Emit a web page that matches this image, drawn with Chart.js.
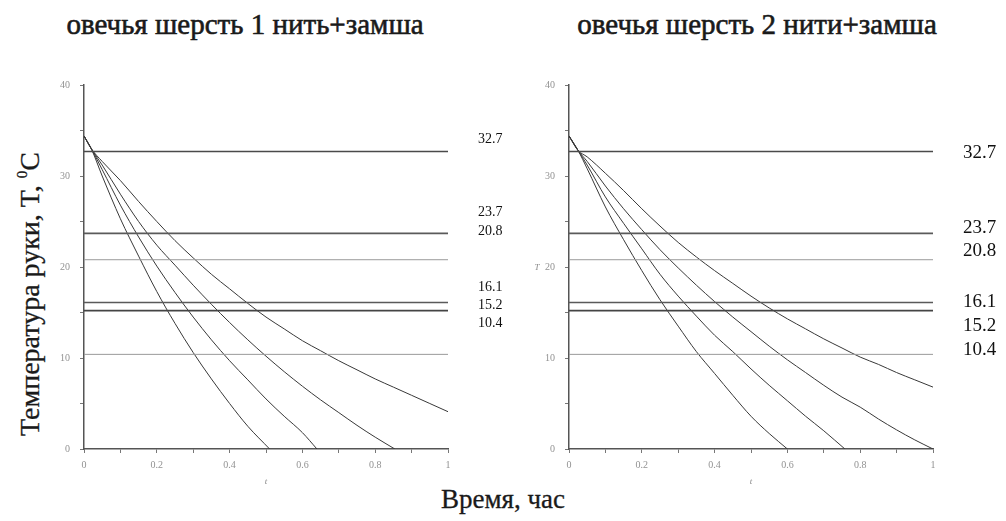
<!DOCTYPE html>
<html lang="ru">
<head>
<meta charset="utf-8">
<title>Температура руки</title>
<script src="https://cdn.jsdelivr.net/npm/chart.js@4.4.1/dist/chart.umd.min.js"></script>
<style>
  html, body { margin: 0; padding: 0; background: #fff; }
  #page { position: relative; width: 1006px; height: 521px; overflow: hidden; font-family: "Liberation Serif", "DejaVu Serif", serif; color: #1a1a1a; }
  .panel { position: absolute; top: 0; width: 503px; height: 521px; }
  .title { position: absolute; top: 10px; font-size: 29px; line-height: 29px; white-space: nowrap; transform: translateX(-50%); -webkit-text-stroke: 0.6px #1a1a1a; }
  #ylab { position: absolute; left: 30px; top: 294px; font-size: 28px; line-height: 28px; white-space: nowrap; transform: translate(-50%, -50%) rotate(-90deg); -webkit-text-stroke: 0.3px #1a1a1a; }
  #ylab sup { font-size: 15px; vertical-align: 12px; line-height: 0; }
  #xlab { position: absolute; left: 503px; top: 486px; font-size: 27px; line-height: 27px; white-space: nowrap; transform: translateX(-50%); -webkit-text-stroke: 0.3px #1a1a1a; }
</style>
</head>
<body>
<div id="page">
  <div class="title" style="left:245px">овечья шерсть 1 нить+замша</div>
  <div class="title" style="left:757px">овечья шерсть 2 нити+замша</div>
  <div id="ylab">Температура руки, T, <sup>0</sup>C</div>
  <div id="xlab">Время, час</div>
  <div class="panel" style="left:0px"><canvas id="left" width="503" height="521"></canvas></div>
  <div class="panel" style="left:503px"><canvas id="right" width="503" height="521"></canvas></div>
</div>
<script>
// Reference temperature levels, °C (same in both panels)
const levels = [32.7, 23.7, 20.8, 16.1, 15.2, 10.4];

// Axis tick values
const xTickLabels = ['0', '0.2', '0.4', '0.6', '0.8', '1'];
const yTickLabels = ['0', '10', '20', '30', '40'];

// Panel 1: one thread + suede — cooling curves (time, h / temperature, °C)
const leftTimeA = [0, 0.02, 0.05, 0.1, 0.15, 0.2, 0.25, 0.3, 0.35, 0.4, 0.45, 0.51];
const leftTempA = [34.4, 33.0, 30.0, 25.3, 21.2, 17.3, 13.8, 10.6, 7.7, 5.0, 2.5, 0];
const leftTimeB = [0, 0.02, 0.05, 0.1, 0.15, 0.2, 0.25, 0.3, 0.35, 0.4, 0.45, 0.5, 0.55, 0.6, 0.64];
const leftTempB = [34.4, 33.0, 30.7, 26.8, 23.3, 20.1, 17.2, 14.5, 12.0, 9.7, 7.6, 5.5, 3.6, 1.8, 0];
const leftTimeC = [0, 0.02, 0.05, 0.1, 0.15, 0.2, 0.25, 0.3, 0.35, 0.4, 0.45, 0.5, 0.55, 0.6, 0.65, 0.7, 0.75, 0.8, 0.854];
const leftTempC = [34.4, 33.0, 31.2, 28.0, 25.0, 22.4, 20.2, 18.0, 15.9, 13.9, 12.0, 10.2, 8.5, 6.9, 5.4, 4.0, 2.6, 1.3, 0];
const leftTimeD = [0, 0.02, 0.05, 0.1, 0.15, 0.2, 0.25, 0.3, 0.35, 0.4, 0.45, 0.5, 0.55, 0.6, 0.65, 0.7, 0.75, 0.8, 0.85, 0.9, 0.95, 1.0];
const leftTempD = [34.4, 33.0, 31.6, 29.5, 27.2, 25.0, 22.9, 21.0, 19.2, 17.6, 16.0, 14.5, 13.2, 11.9, 10.8, 9.7, 8.7, 7.7, 6.8, 5.9, 5.0, 4.1];

// Panel 2: two threads + suede
const rightTimeA = [0, 0.025, 0.05, 0.1, 0.15, 0.2, 0.25, 0.3, 0.35, 0.4, 0.45, 0.5, 0.55, 0.6];
const rightTempA = [34.4, 32.8, 30.8, 26.6, 23.0, 19.6, 16.4, 13.5, 10.7, 8.3, 5.9, 3.6, 1.7, 0];
const rightTimeB = [0, 0.025, 0.05, 0.1, 0.15, 0.2, 0.25, 0.3, 0.35, 0.4, 0.45, 0.5, 0.55, 0.6, 0.65, 0.7, 0.758];
const rightTempB = [34.4, 32.8, 31.2, 27.7, 24.8, 22.0, 19.2, 16.8, 14.6, 12.5, 10.7, 8.8, 7.0, 5.3, 3.6, 2.0, 0];
const rightTimeC = [0, 0.025, 0.05, 0.1, 0.15, 0.2, 0.25, 0.3, 0.35, 0.4, 0.45, 0.5, 0.55, 0.6, 0.65, 0.7, 0.75, 0.8, 0.85, 0.9, 0.95, 1.0];
const rightTempC = [34.4, 32.8, 31.6, 28.9, 26.4, 24.1, 21.9, 19.9, 18.0, 16.2, 14.5, 12.9, 11.3, 9.8, 8.4, 7.0, 5.7, 4.6, 3.3, 2.1, 1.0, 0];
const rightTimeD = [0, 0.025, 0.05, 0.1, 0.15, 0.2, 0.25, 0.3, 0.35, 0.4, 0.45, 0.5, 0.55, 0.6, 0.65, 0.7, 0.75, 0.8, 0.85, 0.9, 0.95, 1.0];
const rightTempD = [34.4, 32.8, 32.1, 30.3, 28.4, 26.4, 24.5, 22.7, 21.1, 19.6, 18.2, 16.8, 15.5, 14.3, 13.2, 12.1, 11.1, 10.1, 9.3, 8.4, 7.6, 6.8];

// Styling of the level lines
const levelWidths = [1.6, 1.6, 1, 1.6, 1.8, 1];
const levelColors = ['#4a4a4a', '#5a5a5a', '#9a9a9a', '#5a5a5a', '#444444', '#9a9a9a'];

function pairs(xs, ys) { return xs.map((x, i) => ({ x: x, y: ys[i] })); }

function curveSet(list) {
  return list.map(([xs, ys]) => ({
    data: pairs(xs, ys),
    borderColor: '#383838',
    borderWidth: 1,
    pointRadius: 0,
    cubicInterpolationMode: 'monotone',
    fill: false
  }));
}

function levelSet() {
  return levels.map((v, i) => ({
    data: [{ x: 0, y: v }, { x: 1, y: v }],
    borderColor: levelColors[i],
    borderWidth: levelWidths[i],
    pointRadius: 0,
    fill: false
  }));
}

// Writes the level values beside the lines and the small axis letters
const annotate = {
  id: 'annotate',
  afterDraw(chart, args, o) {
    const ctx = chart.ctx;
    const ys = chart.scales.y;
    ctx.save();
    ctx.fillStyle = '#111';
    ctx.font = o.fontSize + 'px "Liberation Serif"';
    ctx.textBaseline = 'middle';
    ctx.textAlign = 'left';
    levels.forEach((v, i) => {
      ctx.fillText(v.toFixed(1), o.labelX, ys.getPixelForValue(v) + o.offsets[i]);
    });
    ctx.fillStyle = '#8a8a8a';
    ctx.font = 'italic 9px "Liberation Serif"';
    ctx.textAlign = 'center';
    ctx.fillText('t', (chart.chartArea.left + chart.chartArea.right) / 2, 482);
    if (o.showT) ctx.fillText('T', o.tX, 268);
    ctx.restore();
  }
};

function makeChart(id, curves, yWidth, padRight, labelOpts) {
  return new Chart(document.getElementById(id), {
    type: 'line',
    data: { datasets: levelSet().concat(curveSet(curves)) },
    plugins: [annotate],
    options: {
      responsive: false,
      animation: false,
      devicePixelRatio: 1,
      layout: { padding: { left: 0, top: 85, right: padRight, bottom: 42 } },
      plugins: { legend: { display: false }, tooltip: { enabled: false }, annotate: labelOpts },
      scales: {
        x: {
          type: 'linear', min: 0, max: 1,
          afterFit(s) { s.height = 30; },
          border: { display: true, color: '#555', width: 1.5 },
          grid: { drawOnChartArea: false, drawTicks: true, tickLength: 4, color: '#777' },
          ticks: {
            stepSize: 0.1, autoSkip: false, maxRotation: 0, padding: 6,
            color: '#929292', font: { family: 'Liberation Serif', size: 10 },
            callback(v) {
              const k = Math.round(v * 10);
              return k % 2 === 0 ? xTickLabels[k / 2] : '';
            }
          }
        },
        y: {
          type: 'linear', min: 0, max: 40,
          afterFit(s) { s.width = yWidth; },
          border: { display: true, color: '#555', width: 1.5 },
          grid: { drawOnChartArea: false, drawTicks: true, tickLength: 4, color: '#777' },
          ticks: {
            stepSize: 5, autoSkip: false, padding: 10,
            color: '#929292', font: { family: 'Liberation Serif', size: 10 },
            callback(v) {
              return v % 10 === 0 ? yTickLabels[v / 10] : '';
            }
          }
        }
      }
    }
  });
}

makeChart('left',
  [[leftTimeA, leftTempA], [leftTimeB, leftTempB], [leftTimeC, leftTempC], [leftTimeD, leftTempD]],
  84, 55,
  { labelX: 478, fontSize: 14, offsets: [-12, -21, -28, -15, -5, -31], showT: false, tX: 0 });

makeChart('right',
  [[rightTimeA, rightTempA], [rightTimeB, rightTempB], [rightTimeC, rightTempC], [rightTimeD, rightTempD]],
  66, 73,
  { labelX: 460, fontSize: 19, offsets: [2, -5, -9, 0, 15, -4], showT: true, tX: 34 });
</script>
</body>
</html>
